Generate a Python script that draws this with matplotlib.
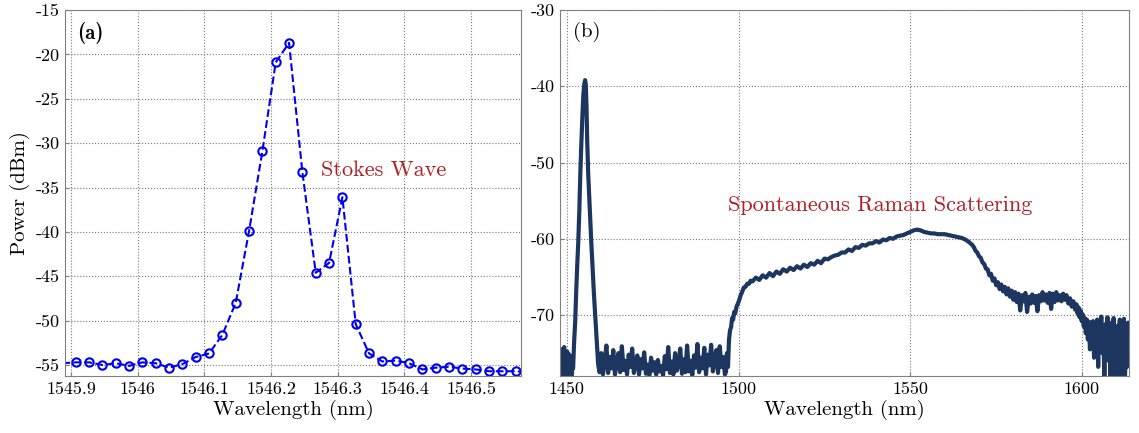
import numpy as np
import matplotlib
matplotlib.use('Agg')
import matplotlib.pyplot as plt

plt.rcParams['font.family'] = 'serif'
plt.rcParams['font.serif'] = ['cmr10']
plt.rcParams['mathtext.fontset'] = 'cm'
plt.rcParams['axes.unicode_minus'] = False

# (a) Stokes wave, OSA samples
wl_a = [1545.887, 1545.907, 1545.927, 1545.947, 1545.967, 1545.987, 1546.007,
        1546.027, 1546.047, 1546.067, 1546.087, 1546.107, 1546.127, 1546.147,
        1546.167, 1546.187, 1546.207, 1546.227, 1546.247, 1546.267, 1546.287,
        1546.307, 1546.327, 1546.347, 1546.367, 1546.387, 1546.407, 1546.427,
        1546.447, 1546.467, 1546.487, 1546.507, 1546.527, 1546.547, 1546.567,
        1546.587]
p_a = [-54.8, -54.7, -54.7, -55.0, -54.8, -55.1, -54.7, -54.8, -55.3, -54.9,
       -54.1, -53.7, -51.6, -48.0, -39.9, -30.9, -20.9, -18.7, -33.3, -44.6,
       -43.5, -36.1, -50.4, -53.7, -54.6, -54.5, -54.8, -55.5, -55.3, -55.2,
       -55.4, -55.5, -55.7, -55.7, -55.7, -55.8]

xt_a = [1545.9, 1546.0, 1546.1, 1546.2, 1546.3, 1546.4, 1546.5]
xt_a_lab = ['1545.9', '1546', '1546.1', '1546.2', '1546.3', '1546.4', '1546.5']
yt_a = [-55, -50, -45, -40, -35, -30, -25, -20, -15]

# (b) broadband spectrum, pieces
wl_floor1 = [1448.0, 1448.3, 1448.6, 1448.9, 1449.2, 1449.5, 1449.8, 1450.1,
             1450.4, 1450.7, 1451.0, 1451.3, 1451.6]
p_floor1 = [-74.5, -78.5, -75.0, -77.5, -74.2, -78.5, -76.0, -74.8, -78.5,
            -75.2, -76.5, -78.5, -76.8]

wl_pump = [1451.8, 1452.1, 1452.4, 1452.7, 1453.0, 1453.3, 1453.6, 1453.9,
           1454.2, 1454.5, 1454.8, 1455.1, 1455.3, 1455.5, 1455.7, 1455.9,
           1456.2, 1456.5, 1456.8, 1457.1, 1457.5, 1457.9, 1458.3, 1458.7,
           1459.1]
p_pump = [-77.0, -73.5, -71.0, -67.0, -63.5, -60.5, -56.5, -51.5, -47.5, -44.0,
          -41.0, -39.6, -39.2, -39.8, -42.5, -47.0, -51.5, -54.5, -57.5, -60.5,
          -64.0, -67.5, -70.5, -73.5, -76.5]

wl_floor2 = [1459.5, 1460.0, 1460.5, 1461.0, 1461.5, 1462.0, 1462.5, 1463.0,
             1463.5, 1464.0, 1464.5, 1465.0, 1465.5, 1466.0, 1466.5, 1467.0,
             1467.5, 1468.0, 1468.5, 1469.0, 1469.5, 1470.0, 1470.5, 1471.0,
             1471.5, 1472.0, 1472.5, 1473.0, 1473.5, 1474.0, 1474.5, 1475.0,
             1475.5, 1476.0, 1476.5, 1477.0, 1477.5, 1478.0, 1478.5, 1479.0,
             1479.5, 1480.0, 1480.5, 1481.0, 1481.5, 1482.0, 1482.5, 1483.0,
             1483.5, 1484.0, 1484.5, 1485.0, 1485.5, 1486.0, 1486.5, 1487.0,
             1487.5, 1488.0, 1488.5, 1489.0, 1489.5, 1490.0, 1490.5, 1491.0,
             1491.5, 1492.0, 1492.5, 1493.0, 1493.5, 1494.0, 1494.5, 1495.0,
             1495.5, 1496.0]
p_floor2 = [-77.5, -75.0, -77.8, -76.0, -74.0, -77.6, -75.5, -77.0, -74.6, -77.8,
            -76.2, -75.0, -77.5, -74.1, -77.2, -76.0, -77.8, -75.2, -76.8, -74.4,
            -77.6, -76.4, -75.3, -77.8, -75.8, -77.0, -74.9, -77.7, -76.5, -77.9,
            -75.6, -77.3, -76.2, -77.8, -75.9, -77.4, -76.7, -77.9, -75.4, -77.1,
            -74.2, -77.6, -76.1, -77.8, -75.0, -77.3, -76.4, -74.4, -77.7, -75.8,
            -77.5, -74.0, -77.4, -76.0, -77.9, -75.3, -76.9, -73.8, -77.5, -75.6,
            -77.0, -74.3, -77.8, -75.2, -76.6, -73.9, -77.4, -75.9, -74.6, -77.6,
            -74.1, -76.8, -75.5, -77.8]

wl_rise = [1496.3, 1496.6, 1496.9, 1497.2, 1497.5, 1497.8, 1498.1, 1498.4,
           1498.7, 1499.0, 1499.4, 1499.8, 1500.2, 1500.6, 1501.0, 1501.5,
           1502.0, 1502.5, 1503.0, 1503.5, 1504.0]
p_rise = [-77.5, -75.0, -76.8, -73.2, -72.0, -71.6, -70.4, -70.6, -69.6, -69.8,
          -68.9, -68.5, -68.0, -67.4, -67.0, -66.4, -66.3, -65.9, -65.9, -65.5,
          -65.6]

wl_hump = [1505, 1506, 1507, 1508, 1509, 1510, 1511, 1512, 1513, 1514, 1515,
           1516, 1517, 1518, 1519, 1520, 1521, 1522, 1523, 1524, 1525, 1526,
           1527, 1528, 1529, 1530, 1531, 1532, 1533, 1534, 1535, 1536, 1537,
           1538, 1539, 1540, 1541, 1542, 1543, 1544, 1545, 1546, 1547, 1548,
           1549, 1550, 1551, 1552, 1553, 1554, 1555, 1556, 1557, 1558, 1559,
           1560, 1561, 1562, 1563, 1564, 1565, 1566, 1567]
p_hump = [-65.1, -65.4, -64.8, -65.1, -64.5, -64.9, -64.3, -64.6, -64.0, -64.3,
          -63.8, -64.1, -63.6, -63.9, -63.4, -63.7, -63.2, -63.4, -62.9, -63.2,
          -62.6, -62.7, -62.4, -62.2, -62.1, -61.8, -61.8, -61.4, -61.6, -61.1,
          -61.2, -60.8, -60.9, -60.6, -60.6, -60.3, -60.5, -60.1, -60.2, -59.9,
          -60.0, -59.7, -59.6, -59.5, -59.3, -59.1, -58.9, -58.8, -58.9, -59.1,
          -59.2, -59.3, -59.3, -59.4, -59.4, -59.4, -59.5, -59.6, -59.7, -59.8,
          -59.9, -60.1, -60.4]

wl_fall = [1568.0, 1568.5, 1569.0, 1569.5, 1570.0, 1570.5, 1571.0, 1571.5,
           1572.0, 1572.5, 1573.0, 1573.5, 1574.0, 1574.5, 1575.0, 1575.5,
           1576.0, 1576.5, 1577.0, 1577.5, 1578.0]
p_fall = [-60.8, -61.1, -61.6, -61.8, -62.3, -62.5, -63.1, -63.3, -63.9, -64.0,
          -64.8, -64.6, -65.5, -65.2, -66.1, -65.7, -66.6, -66.0, -66.9, -66.3,
          -67.3]

wl_shelf = [1578.5, 1579.0, 1579.5, 1580.0, 1580.5, 1581.0, 1581.5, 1582.0,
            1582.5, 1583.0, 1583.5, 1584.0, 1584.5, 1585.0, 1585.5, 1586.0,
            1586.5, 1587.0, 1587.5, 1588.0, 1588.5, 1589.0, 1589.5, 1590.0,
            1590.5, 1591.0, 1591.5, 1592.0, 1592.5, 1593.0, 1593.5, 1594.0,
            1594.5, 1595.0, 1595.5, 1596.0, 1596.5, 1597.0, 1597.5, 1598.0]
p_shelf = [-66.5, -67.6, -66.8, -68.0, -67.0, -68.3, -67.2, -69.4, -67.4, -68.2,
           -67.1, -69.6, -67.6, -68.5, -67.3, -68.4, -67.5, -69.5, -67.4, -68.2,
           -67.0, -68.1, -67.3, -68.4, -67.1, -69.2, -67.2, -68.3, -67.0, -68.1,
           -67.4, -68.2, -67.2, -68.0, -67.4, -68.5, -67.8, -68.9, -68.2, -69.3]

wl_tail = [1598.4, 1598.7, 1599.0, 1599.3, 1599.6, 1599.9, 1600.2, 1600.5,
           1600.8, 1601.1, 1601.4, 1601.7, 1602.0, 1602.3, 1602.6, 1602.9,
           1603.2, 1603.5, 1603.8, 1604.1, 1604.4, 1604.7, 1605.0, 1605.3,
           1605.6, 1605.9, 1606.2, 1606.5, 1606.8, 1607.1, 1607.4, 1607.7,
           1608.0, 1608.3, 1608.6, 1608.9, 1609.2, 1609.5, 1609.8, 1610.1,
           1610.4, 1610.7, 1611.0, 1611.3, 1611.6, 1611.9, 1612.2, 1612.5,
           1612.8, 1613.1, 1613.4, 1613.7]
p_tail = [-68.6, -69.8, -69.0, -70.3, -69.4, -70.8, -69.9, -71.5, -70.4, -72.4,
          -70.6, -73.2, -70.9, -74.5, -71.0, -73.4, -70.8, -75.6, -71.5, -74.0,
          -70.6, -76.8, -71.8, -73.8, -70.2, -75.0, -72.0, -78.5, -71.2, -74.6,
          -70.3, -76.0, -72.5, -78.5, -71.0, -75.2, -70.4, -78.5, -72.8, -78.5,
          -71.4, -76.5, -70.6, -78.5, -72.2, -75.5, -70.5, -78.5, -71.8, -76.8,
          -71.0, -74.5]

xt_b = [1450, 1500, 1550, 1600]
yt_b = [-70, -60, -50, -40, -30]

wl_b = np.concatenate([wl_floor1, wl_pump, wl_floor2, wl_rise, wl_hump,
                       wl_fall, wl_shelf, wl_tail])
p_b = np.concatenate([p_floor1, p_pump, p_floor2, p_rise, p_hump,
                      p_fall, p_shelf, p_tail])

fig = plt.figure(figsize=(11.39, 4.33), dpi=100)
ax1 = fig.add_axes([0.0571, 0.1316, 0.4004, 0.8453])
ax2 = fig.add_axes([0.4917, 0.1316, 0.4996, 0.8453])

grey = '#808080'
red = '#b01e23'

ax1.plot(wl_a, p_a, '--', color='#0000f0', lw=1.5, marker='o', ms=6,
         mfc='none', mew=1.5, markevery=list(range(1, len(wl_a) - 1)))
ax1.set_xlim(1545.891, 1546.575)
ax1.set_ylim(-56.24, -15)
ax1.set_xticks(xt_a)
ax1.set_xticklabels(xt_a_lab)
ax1.set_yticks(yt_a)
ax1.set_yticklabels([str(v) for v in yt_a])
ax1.set_xlabel('Wavelength (nm)', fontsize=15, labelpad=2)
ax1.set_ylabel('Power (dBm)', fontsize=15, labelpad=4)
ax1.text(0.026, 0.937, '(a)', transform=ax1.transAxes, fontsize=15,
         family='cmb10', va='center', ha='left')
ax1.text(0.561, 0.563, 'Stokes Wave', transform=ax1.transAxes, fontsize=16,
         color=red, va='center', ha='left')

ax2.plot(wl_b, p_b, '-', color='#1d3660', lw=3.0)
ax2.set_xlim(1448, 1613.7)
ax2.set_ylim(-78, -30)
ax2.set_xticks(xt_b)
ax2.set_xticklabels([str(v) for v in xt_b])
ax2.set_yticks(yt_b)
ax2.set_yticklabels([str(v) for v in yt_b])
ax2.set_xlabel('Wavelength (nm)', fontsize=15, labelpad=2)
ax2.text(0.023, 0.94, '(b)', transform=ax2.transAxes, fontsize=15,
         va='center', ha='left')
ax2.text(0.296, 0.467, 'Spontaneous Raman Scattering', transform=ax2.transAxes,
         fontsize=16, color=red, va='center', ha='left')

for ax in (ax1, ax2):
    ax.grid(True, linestyle=':', color='#7a7a7a', lw=0.8)
    ax.tick_params(direction='in', length=3, labelsize=13, color=grey, pad=4)
    for s in ax.spines.values():
        s.set_color(grey)
        s.set_linewidth(0.8)

fig.savefig('out.png', dpi=100)
